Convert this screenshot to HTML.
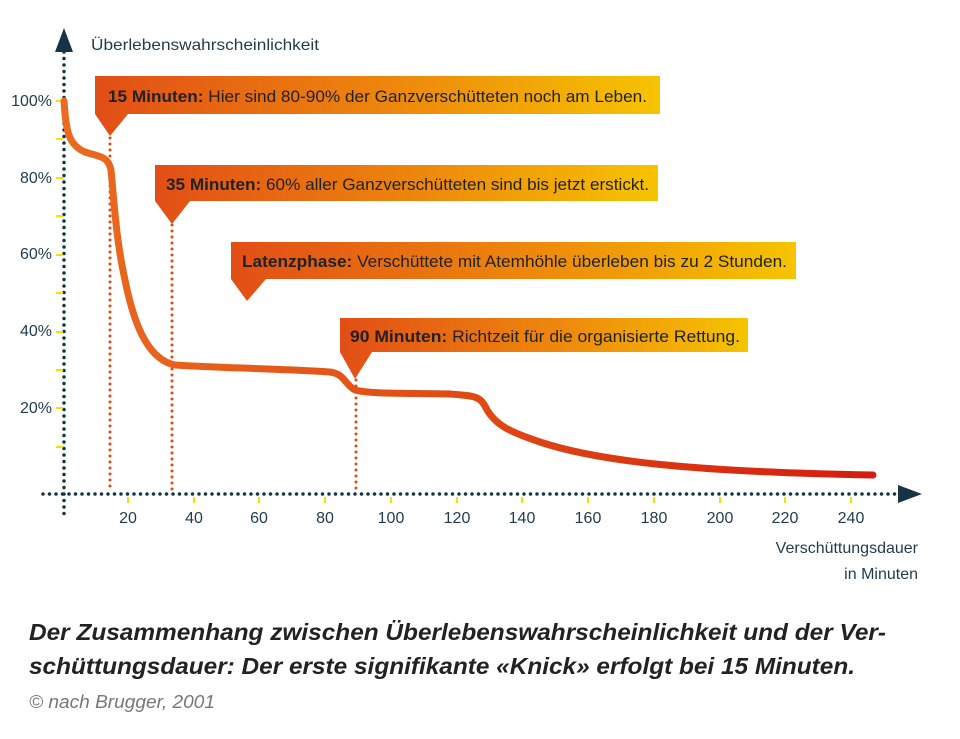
<!DOCTYPE html>
<html><head><meta charset="utf-8"><style>
html,body{margin:0;padding:0;background:#fff;}
svg{display:block;font-family:"Liberation Sans",sans-serif;}
</style></head><body>
<svg width="960" height="739" viewBox="0 0 960 739" xmlns="http://www.w3.org/2000/svg">
<defs>
<linearGradient id="g" x1="0" x2="1" y1="0" y2="0">
<stop offset="0" stop-color="#e24e16"/><stop offset="0.55" stop-color="#ee8a0c"/><stop offset="1" stop-color="#f6c400"/>
</linearGradient>
<linearGradient id="cg" gradientUnits="userSpaceOnUse" x1="64" x2="875" y1="0" y2="0">
<stop offset="0" stop-color="#ea6a20"/><stop offset="0.5" stop-color="#e04a14"/><stop offset="1" stop-color="#d41c10"/>
</linearGradient>
</defs>
<!-- axes -->
<line x1="64" y1="52" x2="64" y2="516" stroke="#163446" stroke-width="3.5" stroke-dasharray="0 6.5" stroke-linecap="round"/>
<polygon points="64,28 55,52 73,52" fill="#163446"/>
<line x1="43" y1="494" x2="900" y2="494" stroke="#163446" stroke-width="3.5" stroke-dasharray="0 6.5" stroke-linecap="round"/>
<polygon points="922,494 898,485 898,503" fill="#163446"/>
<!-- y ticks -->
<g stroke="#f2e200" stroke-width="2">
<line x1="56" y1="101" x2="63" y2="101"/><line x1="56" y1="139" x2="63" y2="139"/>
<line x1="56" y1="178" x2="63" y2="178"/><line x1="56" y1="216" x2="63" y2="216"/>
<line x1="56" y1="255" x2="63" y2="255"/><line x1="56" y1="293" x2="63" y2="293"/>
<line x1="56" y1="332" x2="63" y2="332"/><line x1="56" y1="370" x2="63" y2="370"/>
<line x1="56" y1="408" x2="63" y2="408"/><line x1="56" y1="447" x2="63" y2="447"/>
<line x1="128" y1="497" x2="128" y2="503"/><line x1="194" y1="497" x2="194" y2="503"/>
<line x1="259" y1="497" x2="259" y2="503"/><line x1="325" y1="497" x2="325" y2="503"/>
<line x1="391" y1="497" x2="391" y2="503"/><line x1="457" y1="497" x2="457" y2="503"/>
<line x1="522" y1="497" x2="522" y2="503"/><line x1="588" y1="497" x2="588" y2="503"/>
<line x1="654" y1="497" x2="654" y2="503"/><line x1="720" y1="497" x2="720" y2="503"/>
<line x1="785" y1="497" x2="785" y2="503"/><line x1="851" y1="497" x2="851" y2="503"/>
</g>
<g fill="#1f3b4d" font-size="16">
<text x="52" y="106" text-anchor="end">100%</text>
<text x="52" y="183" text-anchor="end">80%</text>
<text x="52" y="259" text-anchor="end">60%</text>
<text x="52" y="336" text-anchor="end">40%</text>
<text x="52" y="413" text-anchor="end">20%</text>
<g text-anchor="middle">
<text x="128" y="523">20</text><text x="194" y="523">40</text><text x="259" y="523">60</text>
<text x="325" y="523">80</text><text x="391" y="523">100</text><text x="457" y="523">120</text>
<text x="522" y="523">140</text><text x="588" y="523">160</text><text x="654" y="523">180</text>
<text x="720" y="523">200</text><text x="785" y="523">220</text><text x="851" y="523">240</text>
</g>
<text x="91" y="50" textLength="228" lengthAdjust="spacingAndGlyphs">Überlebenswahrscheinlichkeit</text>
<text x="918" y="553" text-anchor="end">Verschüttungsdauer</text>
<text x="918" y="579" text-anchor="end">in Minuten</text>
</g>
<!-- dotted verticals -->
<g stroke="#e04a14" stroke-width="3" stroke-dasharray="0 6" stroke-linecap="round">
<line x1="110" y1="138" x2="110" y2="492"/>
<line x1="172" y1="225" x2="172" y2="492"/>
<line x1="356" y1="380" x2="356" y2="492"/>
</g>
<!-- curve -->
<path d="M64,101 C66,130 68,145 85,152 C100,157 108,156 111,170 C114,200 116,240 125,280 C135,330 150,360 175,365 C220,368 290,369 330,372 C345,374 345,385 355,390 C370,394 400,393 450,394 C475,396 480,396 486,408 C495,425 510,432 540,442 C600,462 700,472 873,475" fill="none" stroke="url(#cg)" stroke-width="7" stroke-linecap="round" stroke-linejoin="round"/>
<!-- callouts -->
<g>
<path d="M95,76 H660 V114 H128 L110,136 L95,114 Z" fill="url(#g)"/>
<path d="M155,165 H658 V201 H190 L172,224 L155,201 Z" fill="url(#g)"/>
<path d="M231,242 H796 V279 H266 L247,301 L231,279 Z" fill="url(#g)"/>
<path d="M340,318 H748 V352 H372 L355,379 L340,352 Z" fill="url(#g)"/>
</g>
<g fill="#222" font-size="17">
<text x="108" y="102" textLength="539" lengthAdjust="spacingAndGlyphs"><tspan font-weight="bold">15 Minuten:</tspan> Hier sind 80-90% der Ganzverschütteten noch am Leben.</text>
<text x="166" y="190" textLength="483" lengthAdjust="spacingAndGlyphs"><tspan font-weight="bold">35 Minuten:</tspan> 60% aller Ganzverschütteten sind bis jetzt erstickt.</text>
<text x="242" y="267" textLength="545" lengthAdjust="spacingAndGlyphs"><tspan font-weight="bold">Latenzphase:</tspan> Verschüttete mit Atemhöhle überleben bis zu 2 Stunden.</text>
<text x="350" y="342" textLength="390" lengthAdjust="spacingAndGlyphs"><tspan font-weight="bold">90 Minuten:</tspan> Richtzeit für die organisierte Rettung.</text>
</g>
<g fill="#222" font-size="23" font-weight="bold" font-style="italic">
<text x="29" y="640" textLength="857" lengthAdjust="spacingAndGlyphs">Der Zusammenhang zwischen Überlebenswahrscheinlichkeit und der Ver-</text>
<text x="29" y="674" textLength="826" lengthAdjust="spacingAndGlyphs">schüttungsdauer: Der erste signifikante «Knick» erfolgt bei 15 Minuten.</text>
</g>
<text x="29" y="708" fill="#777" font-size="18" font-style="italic" textLength="186" lengthAdjust="spacingAndGlyphs">© nach Brugger, 2001</text>
</svg>
</body></html>
